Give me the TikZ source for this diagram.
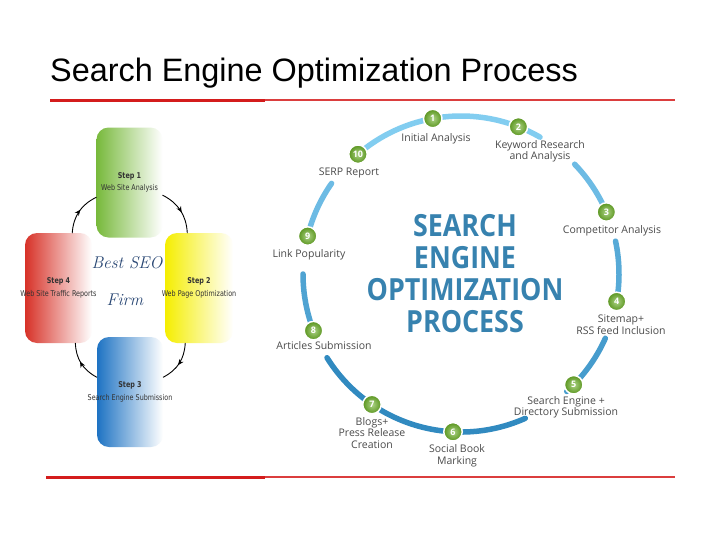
\documentclass[tikz,border=0pt]{standalone}
\usepackage{fontspec}
\newfontfamily\headfont{Liberation Sans}
\newfontfamily\labelfont{Open Sans}
\newfontfamily\bigfont{Open Sans}[FakeStretch=0.88]
\newfontfamily\stepfont{DejaVu Sans}[FakeStretch=0.8]
\usetikzlibrary{arrows.meta,decorations.markings,shadings}
\definecolor{seored}{RGB}{212,28,28}
\definecolor{seogray}{RGB}{75,75,75}
\definecolor{seoblue}{RGB}{55,130,175}
\definecolor{arctop}{RGB}{130,205,240}
\definecolor{arcbot}{RGB}{45,135,190}
\definecolor{stepgreen}{RGB}{105,175,35}
\definecolor{boxgreen}{RGB}{120,185,60}
\definecolor{boxyellow}{RGB}{245,238,0}
\definecolor{boxblue}{RGB}{30,115,195}
\definecolor{boxred}{RGB}{215,50,40}
\definecolor{firmblue}{RGB}{40,70,115}
\tikzset{
  stepbox/.style={rounded corners=12pt, minimum width=66pt, minimum height=110pt, inner sep=0pt},
  steptext/.style={font=\stepfont\fontsize{8}{12.5}\selectfont, align=center, text=black!80},
  cyclearrow/.style={line width=.9pt, postaction={decorate},
    decoration={markings, mark=at position .55 with {\arrow{Stealth[length=6pt,width=5pt]}}}},
  seoarc/.style={line width=5.5pt, line cap=round},
  seostep/.style={circle, draw=white, line width=1.5pt, inner sep=0pt, minimum size=18.5pt,
    inner color=stepgreen!55!white, outer color=stepgreen!85!black,
    font=\labelfont\bfseries\fontsize{9}{9}\selectfont, text=white},
  seolabel/.style={font=\labelfont\fontsize{10.5}{11.5}\selectfont, text=seogray, align=center}
}
\begin{document}
\begin{tikzpicture}[x=1pt,y=-1pt,line cap=round,line join=round]
  \fill[white] (0,0) rectangle (728,546);
  \useasboundingbox (0,0) rectangle (728,546);
  % heading and red rules
  \node[anchor=base west, inner sep=0pt, font=\headfont\fontsize{32.4}{36}\selectfont] (head) at (50,81) {Search Engine Optimization Process};
  \draw[seored, line width=3pt, line cap=butt] (50,100)--(265,100);
  \draw[seored!85!white, line width=1.2pt, line cap=butt] (265,100)--(675,100);
  \draw[seored, line width=3pt, line cap=butt] (46,477)--(265,477);
  \draw[seored!85!white, line width=1.2pt, line cap=butt] (265,477)--(675,477);

  % left: four step boxes
  \node[stepbox, left color=boxgreen, middle color=boxgreen!55!white, right color=white] (b1) at (129.5,182.5) {};
  \node[stepbox, minimum width=68pt, left color=boxyellow, middle color=boxyellow!55!white, right color=white] (b2) at (199,288) {};
  \node[stepbox, left color=boxblue, middle color=boxblue!55!white, right color=white] (b3) at (130,392) {};
  \node[stepbox, minimum width=67pt, left color=boxred, middle color=boxred!55!white, right color=white] (b4) at (58.5,288) {};
  \node[steptext] (t1) at (b1) {\textbf{Step 1}\\Web Site Analysis};
  \node[steptext] (t2) at (b2) {\textbf{Step 2}\\Web Page Optimization};
  \node[steptext] (t3) at (b3) {\textbf{Step 3}\\Search Engine Submission};
  \node[steptext] (t4) at (b4) {\textbf{Step 4}\\Web Site Traffic Reports};
  \draw[cyclearrow] (b4.76) to[bend left=30] (b1.204);
  \draw[cyclearrow] (b1.-21) to[bend left=30] (b2.102);
  \draw[cyclearrow] (b2.256) to[bend left=30] (b3.24);
  \draw[cyclearrow] (b3.156) to[bend left=30] (b4.287);
  \node[font=\itshape\fontsize{17}{20}\selectfont, text=firmblue] (best) at (127,263) {Best SEO};
  \node[font=\itshape\fontsize{17}{20}\selectfont, text=firmblue] (firm) at (125,300) {Firm};

  % right: the ring of ten steps
  \coordinate (C) at (461,274);
  \foreach \s/\e/\m in {-60/-131/100,-22/-44/75,10/-12/50,48/24/30,148/66/5,180/159/40,-145/-166/75}
    \draw[seoarc, draw=arctop!\m!arcbot] ([shift={(\s:158)}]C) arc[start angle=\s, end angle=\e, radius=158];
  \foreach \n/\a in {1/-100.3,2/-68.7,3/-23.1,4/10,5/44.5,6/92.9,7/124.3,8/159,9/-166.1,10/-130.7}
    \node[seostep] (s\n) at ([shift={(\a:158)}]C) {\n};
  \node[seolabel] (l1) at (436,139) {Initial Analysis};
  \node[seolabel] (l2) at (540,151.5) {Keyword Research\\and Analysis};
  \node[seolabel] (l3) at (612,231) {Competitor Analysis};
  \node[seolabel] (l4) at (621,324.5) {Sitemap+\\RSS feed Inclusion};
  \node[seolabel] (l5) at (566,407.5) {Search Engine +\\Directory Submission};
  \node[seolabel] (l6) at (457,456) {Social Book\\Marking};
  \node[seolabel] (l7) at (372,433) {Blogs+\\Press Release\\Creation};
  \node[seolabel] (l8) at (324,346) {Articles Submission};
  \node[seolabel] (l9) at (309,255) {Link Popularity};
  \node[seolabel] (l10) at (349,173) {SERP Report};
  \node[font=\bigfont\bfseries\fontsize{30.5}{32}\selectfont, text=seoblue, align=center] (core) at (465,274) {SEARCH\\ENGINE\\OPTIMIZATION\\PROCESS};
\end{tikzpicture}
\end{document}
